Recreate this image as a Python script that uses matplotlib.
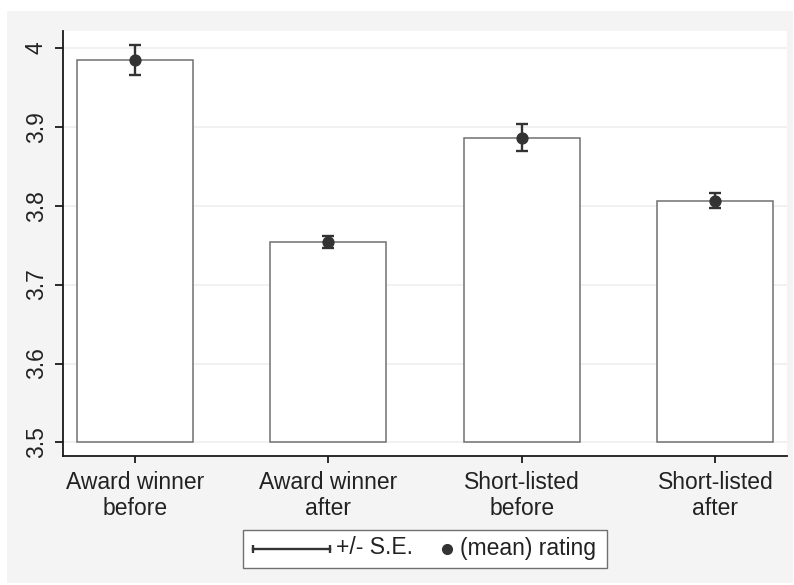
import numpy as np
import matplotlib
matplotlib.use('Agg')
import matplotlib.pyplot as plt
from matplotlib.patches import Rectangle
from matplotlib.lines import Line2D

# values
groups = ['Award winner\nbefore', 'Award winner\nafter',
          'Short-listed\nbefore', 'Short-listed\nafter']
mean_rating = [3.985, 3.754, 3.886, 3.806]
std_err = [0.019, 0.0074, 0.017, 0.0095]
y_ticks = [3.5, 3.6, 3.7, 3.8, 3.9, 4.0]
y_tick_labels = ['3.5', '3.6', '3.7', '3.8', '3.9', '4']
legend_labels = ['+/- S.E.', '(mean) rating']

BASE = 3.5
W, H = 794, 585
BG = '#f4f4f4'
DARK = '#333333'
TEXT = '#222222'

plt.rcParams['font.family'] = ['Liberation Sans', 'DejaVu Sans']
plt.rcParams['font.size'] = 16.5

fig = plt.figure(figsize=(W / 100, H / 100), dpi=100)
fig.patch.set_facecolor('white')
# light grey outer region, with a thin white border like the reference
fig.patches.append(Rectangle((7 / W, 2 / H), 786 / W, 572 / H,
                             transform=fig.transFigure, facecolor=BG,
                             edgecolor='none', zorder=-10))

ax = fig.add_axes([63 / W, 1 - 456 / H, 724 / W, 425 / H])
ax.set_facecolor('white')

x = np.arange(1, len(groups) + 1)
heights = np.array(mean_rating) - BASE
ax.bar(x, heights, bottom=BASE, width=0.6, color='white',
       edgecolor='#707070', linewidth=1.1, zorder=2)
ax.errorbar(x, mean_rating, yerr=std_err, fmt='o', color=DARK,
            markersize=7.8, elinewidth=1.7, capsize=4, capthick=1.7,
            zorder=3)

ax.set_xlim(0.63, 4.37)
ax.set_ylim(3.4829, 4.0211)
ax.set_yticks(y_ticks)
ax.set_yticklabels(y_tick_labels, rotation=90, va='center')
ax.set_xticks(x)
ax.set_xticklabels(groups, linespacing=1.2)
ax.yaxis.grid(True, color='#efefef', linewidth=1.2, zorder=0)
ax.set_axisbelow(True)

for side in ['top', 'right']:
    ax.spines[side].set_visible(False)
for side in ['left', 'bottom']:
    ax.spines[side].set_color('#1a1a1a')
    ax.spines[side].set_linewidth(1.3)

ax.tick_params(axis='y', length=6, width=1.3, pad=5, colors='#1a1a1a',
               labelcolor=TEXT)
ax.tick_params(axis='x', length=5, width=1.3, pad=5.5, colors='#1a1a1a',
               labelcolor=TEXT)

# legend drawn by hand so the two keys can have different lengths
def fx(px):
    return px / W


def fy(px):
    return 1 - px / H


fig.patches.append(Rectangle((fx(243), fy(568)), fx(364), 38 / H,
                             transform=fig.transFigure, facecolor='white',
                             edgecolor='#707070', linewidth=1.0, zorder=5))
key_y = fy(548.5)
fig.lines.append(Line2D([fx(253), fx(330)], [key_y, key_y],
                        transform=fig.transFigure, color=DARK,
                        linewidth=1.7, zorder=6))
fig.lines.append(Line2D([fx(253), fx(330)], [key_y, key_y],
                        transform=fig.transFigure, color=DARK,
                        linestyle='none', marker='|', markersize=6,
                        markeredgewidth=1.7, zorder=6))
fig.text(fx(336), fy(554.5), legend_labels[0], color=TEXT,
         va='baseline', ha='left', zorder=6)
fig.lines.append(Line2D([fx(446.7)], [key_y], transform=fig.transFigure,
                        color=DARK, linestyle='none', marker='o',
                        markersize=7, zorder=6))
fig.text(fx(460), fy(554.5), legend_labels[1], color=TEXT,
         va='baseline', ha='left', zorder=6)

fig.savefig('out.png', dpi=100, facecolor=fig.get_facecolor())
